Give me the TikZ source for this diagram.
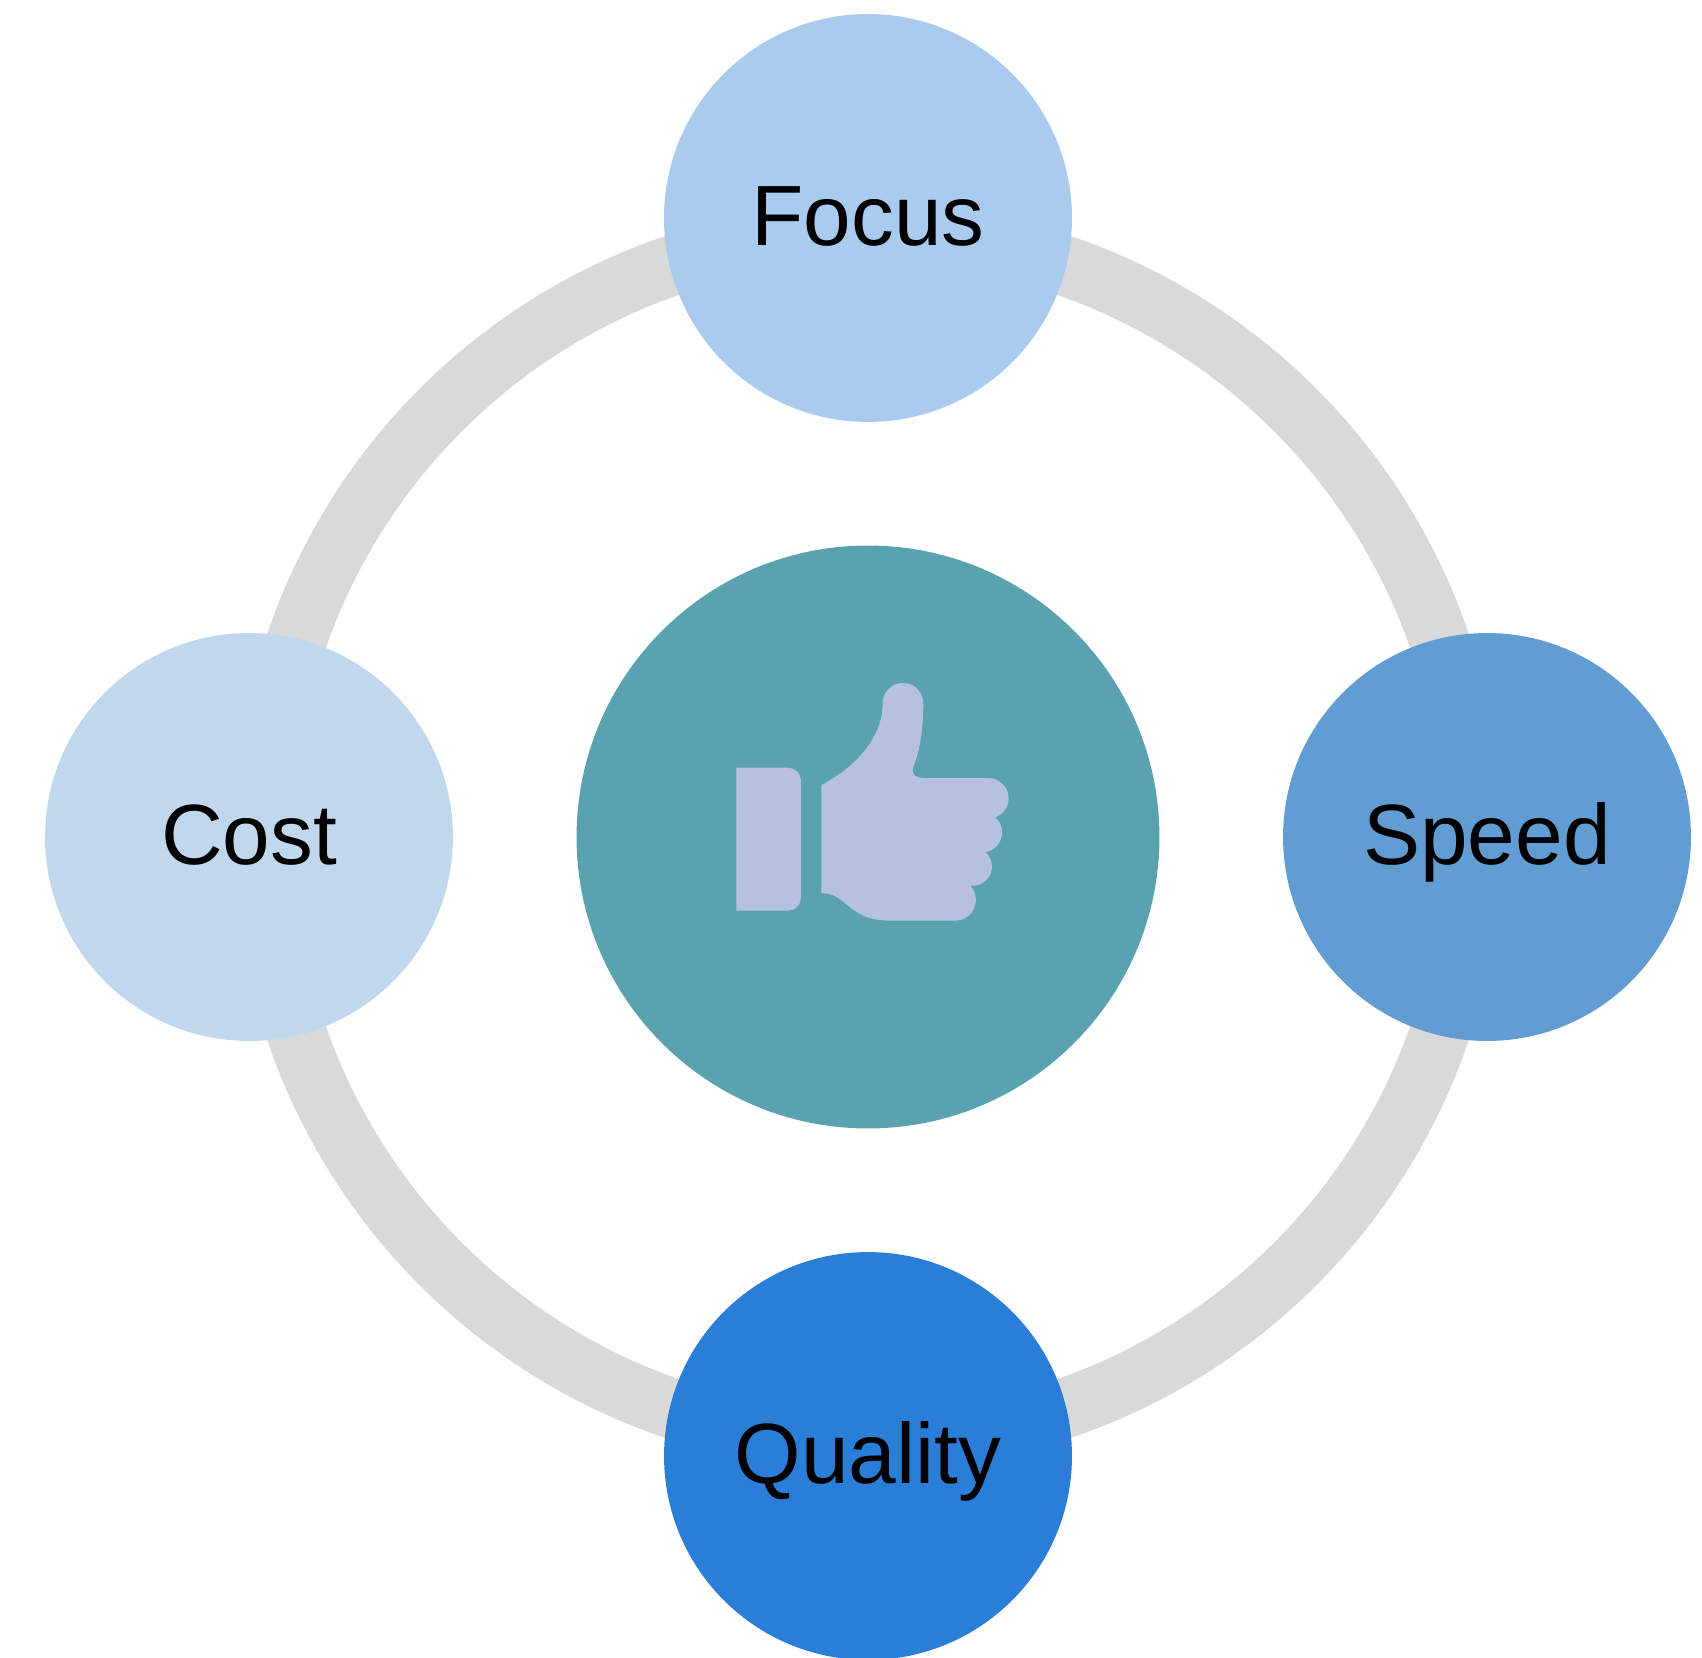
\documentclass[tikz,border=0pt]{standalone}
\usepackage{fontspec}
\setmainfont{Liberation Sans}
\usetikzlibrary{backgrounds}
\definecolor{focusblue}{HTML}{A9CBEE}
\definecolor{costblue}{HTML}{C0D7EE}
\definecolor{speedblue}{HTML}{619DD2}
\definecolor{qualityblue}{HTML}{2B7ED7}
\definecolor{hubteal}{HTML}{5BA2B0}
\definecolor{thumbblue}{HTML}{B5C1DE}
\definecolor{ringgray}{HTML}{D9D9D9}
\tikzset{
    outer/.style={circle, minimum size=8.16cm, inner sep=0pt, text=black, text height=46pt, text depth=15pt, font=\fontsize{48.7}{58}\selectfont},
    ringline/.style={draw=ringgray, line width=1.2cm}
}
\begin{document}
\begin{tikzpicture}[x=0.02cm, y=0.02cm]
            \clip (-868,837) rectangle (834,-820);

            \node[outer, fill=focusblue] (focus) at (0,619) {Focus};
            \node[outer, fill=speedblue] (speed) at (619,0) {Speed};
            \node[outer, fill=qualityblue] (quality) at (0,-619) {Quality};
            \node[outer, fill=costblue] (cost) at (-619,0) {Cost};
            \node[circle, minimum size=11.66cm, inner sep=0pt, fill=hubteal] (hub) at (0,0) {};

            \begin{scope}[on background layer]
                \draw[ringline] (focus) ++(0,-15) arc[start angle=90, end angle=0, radius=604];
                \draw[ringline] (speed) ++(-15,0) arc[start angle=0, end angle=-90, radius=604];
                \draw[ringline] (quality) ++(0,15) arc[start angle=-90, end angle=-180, radius=604];
                \draw[ringline] (cost) ++(15,0) arc[start angle=180, end angle=90, radius=604];
            \end{scope}

            \fill[thumbblue] (-131.7,69.3) -- (-80,69.3) arc[start angle=90, end angle=0, radius=13]
                -- (-67,-60.7) arc[start angle=0, end angle=-90, radius=13]
                -- (-131.7,-73.7) -- cycle;
            \fill[thumbblue] (-46.7,52) .. controls (-11.3,70.3) and (14.7,100.3) .. (14.7,133.7)
                .. controls (14.7,144.9) and (23.1,154) .. (35,154)
                .. controls (46.2,154) and (55.3,144.9) .. (55.3,133.7)
                .. controls (55.3,107) and (52,87) .. (45.3,70.3)
                .. controls (42.7,62) and (48.7,59) .. (54.7,59)
                -- (120.3,59)
                arc[start angle=90, end angle=-70, radius=20.3]
                arc[start angle=49, end angle=-80, radius=20]
                arc[start angle=48, end angle=-97, radius=19.3]
                arc[start angle=43, end angle=-90, radius=20.8]
                -- (23.7,-83.7)
                .. controls (-1.3,-83.7) and (-11.3,-76.3) .. (-24.7,-64.7)
                .. controls (-33,-58) and (-38,-56.3) .. (-46.7,-56.3)
                -- cycle;
        \end{tikzpicture}
\end{document}
